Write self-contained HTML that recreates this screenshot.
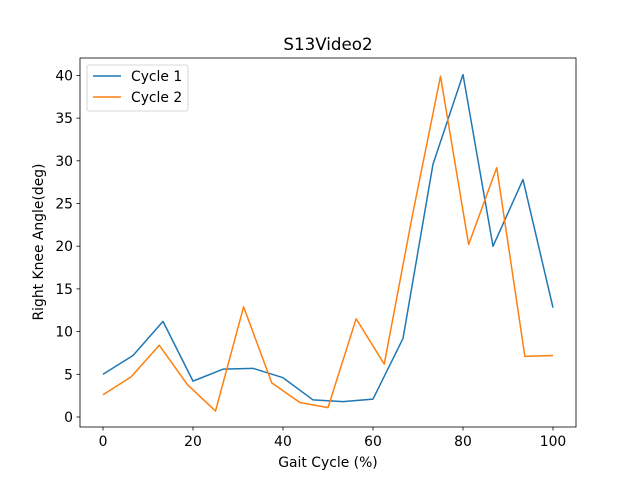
<!DOCTYPE html>
<html><head><meta charset="utf-8"><style>
body{margin:0;background:#fff;font-family:"Liberation Sans","DejaVu Sans",sans-serif;}
svg text{font-family:"DejaVu Sans","Liberation Sans",sans-serif;}
</style></head><body>
<svg id="chart" width="640" height="480" xmlns="http://www.w3.org/2000/svg"></svg>
<script>
const xTicks = [0, 20, 40, 60, 80, 100];
const yTicks = [0, 5, 10, 15, 20, 25, 30, 35, 40];
const cycle1X = [0, 6.67, 13.33, 20, 26.67, 33.33, 40, 46.67, 53.33, 60, 66.67, 73.33, 80, 86.67, 93.33, 100];
const cycle1Y = [5.0, 7.2, 11.2, 4.2, 5.6, 5.7, 4.6, 2.0, 1.8, 2.1, 9.2, 29.6, 40.1, 20.0, 27.8, 12.8];
const cycle2X = [0, 6.25, 12.5, 18.75, 25, 31.25, 37.5, 43.75, 50, 56.25, 62.5, 68.75, 75, 81.25, 87.5, 93.75, 100];
const cycle2Y = [2.6, 4.7, 8.4, 3.8, 0.7, 12.9, 4.0, 1.7, 1.1, 11.5, 6.2, 23.6, 39.9, 20.2, 29.2, 7.1, 7.2];

const L=80,R=576,T=58,B=427;
const sx=v=>103+v*4.5;
const sy=v=>417-v*8.54;
const svg=document.getElementById('chart');
const NS='http://www.w3.org/2000/svg';
function mk(tag,attrs,parent){const e=document.createElementNS(NS,tag);for(const k in attrs)e.setAttribute(k,attrs[k]);(parent||svg).appendChild(e);return e;}

let frame=mk('rect',{x:L,y:T,width:R-L,height:B-T,fill:'none',stroke:'#000','stroke-width':0.8});



xTicks.forEach(v=>{
  const g=mk('g',{});
  
  
  mk('line',{x1:sx(v),x2:sx(v),y1:B,y2:B+3.5,stroke:'#000','stroke-width':0.8},g);
  const t=mk('text',{x:sx(v),y:B+19,'text-anchor':'middle','font-size':13.9},g);t.textContent=v;
});
yTicks.forEach(v=>{
  const g=mk('g',{});
  
  
  mk('line',{x1:L-3.5,x2:L,y1:sy(v),y2:sy(v),stroke:'#000','stroke-width':0.8},g);
  const t=mk('text',{x:L-7,y:sy(v)+5,'text-anchor':'end','font-size':13.9},g);t.textContent=v;
});

function series(xs,ys,color,name){
  const p=mk('polyline',{points:xs.map((x,i)=>sx(x)+','+sy(ys[i])).join(' '),fill:'none',stroke:color,'stroke-width':1.5,'stroke-linejoin':'round'});
  
  
}
series(cycle1X,cycle1Y,'#1f77b4','cycle-1-line');
series(cycle2X,cycle2Y,'#ff7f0e','cycle-2-line');

let t=mk('text',{x:328,y:50,'text-anchor':'middle','font-size':16.7});t.textContent='S13Video2';

t=mk('text',{x:328,y:467,'text-anchor':'middle','font-size':13.9});t.textContent='Gait Cycle (%)';

t=mk('text',{x:43,y:242,'text-anchor':'middle','font-size':13.9,transform:'rotate(-90 43 242)'});t.textContent='Right Knee Angle(deg)';


const lg=mk('g',{});


mk('rect',{x:87,y:65,width:101,height:46,rx:2,fill:'#fff',stroke:'#ccc','stroke-width':0.8},lg);
[['Cycle 1','#1f77b4',76],['Cycle 2','#ff7f0e',97]].forEach(([n,c,y],i)=>{
  const e=mk('g',{},lg);
  
  
  mk('line',{x1:93,x2:121,y1:y,y2:y,stroke:c,'stroke-width':1.5},e);
  const tt=mk('text',{x:131,y:y+5,'font-size':13.9},e);tt.textContent=n;
});
</script>
</body></html>
